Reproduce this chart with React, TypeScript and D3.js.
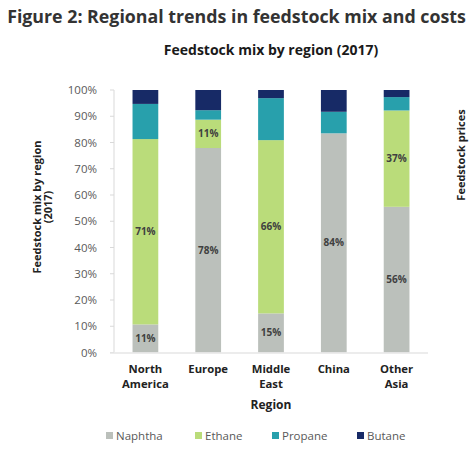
import React from "react";
import * as d3 from "d3";

const regions = ["North America", "Europe", "Middle East", "China", "Other Asia"];
const regionLines = [["North", "America"], ["Europe"], ["Middle", "East"], ["China"], ["Other", "Asia"]];
const seriesNames = ["Naphtha", "Ethane", "Propane", "Butane"];
const naphtha = [10.7, 77.9, 14.9, 83.5, 55.5];
const ethane = [70.6, 10.8, 66.0, 0, 36.7];
const propane = [13.4, 3.6, 16.0, 8.2, 5.1];
const butane = [5.3, 7.7, 3.1, 8.3, 2.7];
const naphthaLabels = ["11%", "78%", "15%", "84%", "56%"];
const ethaneLabels = ["71%", "11%", "66%", "", "37%"];
const yTicks = [0, 10, 20, 30, 40, 50, 60, 70, 80, 90, 100];
const colors = ["#bbc0bb", "#badc7a", "#28a0ac", "#172a66"];

const FONT = "'Open Sans', 'Noto Sans', sans-serif";

export default function App() {
  const W = 470, H = 452;
  const x0 = 114, x1 = 428, yTop = 90, yBot = 352.5;
  const x = d3.scaleBand<string>().domain(regions).range([x0, x1]).paddingInner(0.59).paddingOuter(0.295);
  const y = d3.scaleLinear().domain([0, 100]).range([yBot, yTop]);

  const rows = regions.map((r, i) => ({
    region: r,
    Naphtha: naphtha[i],
    Ethane: ethane[i],
    Propane: propane[i],
    Butane: butane[i],
  }));
  const stack = d3.stack<any>().keys(seriesNames)(rows);
  const labelSets = [naphthaLabels, ethaneLabels];

  return (
    <svg width={W} height={H} style={{ position: "absolute", left: 0, top: 0, background: "#fff" }} fontFamily={FONT}>
      <text x={236.5} y={23} textAnchor="middle" fontSize={17.8} fontWeight={700} fill="#333">
        Figure 2: Regional trends in feedstock mix and costs
      </text>
      <text x={271} y={55} textAnchor="middle" fontSize={14} fontWeight={700} fill="#1a1a1a">
        Feedstock mix by region (2017)
      </text>

      {/* y axis */}
      <line x1={x0} x2={x0} y1={yTop} y2={yBot} stroke="#d9d9d9" strokeWidth={1} />
      {yTicks.map((t) => (
        <g key={t}>
          <line x1={x0 - 4} x2={x0} y1={y(t)} y2={y(t)} stroke="#d9d9d9" />
          <text x={97} y={y(t)} dy="0.35em" textAnchor="end" fontSize={11.5} fill="#595959">
            {t}%
          </text>
        </g>
      ))}

      {/* bars */}
      {stack.map((s, si) => (
        <g key={s.key} fill={colors[si]}>
          {s.map((d, i) => (
            <rect key={i} x={x(regions[i])} width={x.bandwidth()} y={y(d[1])} height={Math.max(0, y(d[0]) - y(d[1]))} />
          ))}
        </g>
      ))}
      {stack.slice(0, 2).map((s, si) => (
        <g key={"l" + s.key}>
          {s.map((d, i) =>
            labelSets[si][i] ? (
              <text key={i} x={(x(regions[i]) as number) + x.bandwidth() / 2} y={(y(d[0]) + y(d[1])) / 2} dy="0.35em"
                textAnchor="middle" fontSize={10} fontWeight={700} fill="#404040">
                {labelSets[si][i]}
              </text>
            ) : null
          )}
        </g>
      ))}

      {/* x axis */}
      <line x1={x0 - 4} x2={x1} y1={yBot + 0.5} y2={yBot + 0.5} stroke="#e6e6e6" strokeWidth={1.5} />
      {regions.map((r, i) =>
        regionLines[i].map((ln, j) => (
          <text key={r + j} x={(x(r) as number) + x.bandwidth() / 2} y={373 + j * 15.4} textAnchor="middle"
            fontSize={11.3} fontWeight={700} fill="#222">
            {ln}
          </text>
        ))
      )}
      <text x={271} y={409} textAnchor="middle" fontSize={12} fontWeight={700} fill="#222">Region</text>

      {/* y axis title */}
      <text transform="translate(40.5,207) rotate(-90)" textAnchor="middle" fontSize={11} fontWeight={700} fill="#222">
        <tspan x={0} dy={0}>Feedstock mix by region</tspan>
      </text>
      <text transform="translate(52,207) rotate(-90)" textAnchor="middle" fontSize={11} fontWeight={700} fill="#222">
        (2017)
      </text>
      <text transform="translate(465,155) rotate(-90)" textAnchor="middle" fontSize={11} fontWeight={700} fill="#222">
        Feedstock prices
      </text>

      {/* legend */}
      {seriesNames.map((n, i) => {
        const lx = [106, 195, 272, 357][i];
        return (
          <g key={n}>
            <rect x={lx} y={432} width={7} height={7} fill={colors[i]} />
            <text x={lx + 10} y={436} dy="0.35em" fontSize={11.5} fill="#595959">{n}</text>
          </g>
        );
      })}
    </svg>
  );
}
